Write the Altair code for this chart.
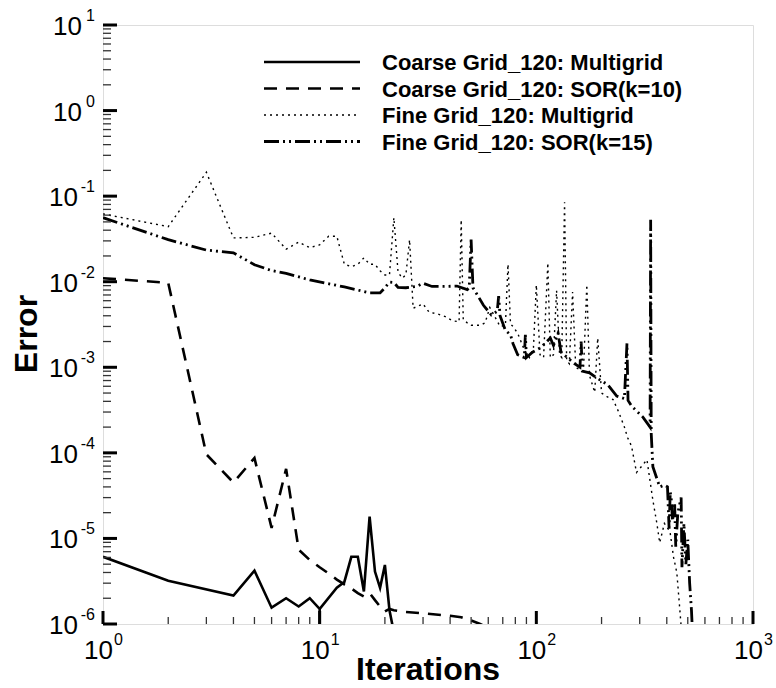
import altair as alt
import pandas as pd

# ---------------- data ----------------
cm_it = [1, 2, 4, 5, 6, 7, 8, 9, 10, 10, 10, 12, 13, 14, 15, 16, 17, 18, 19, 20, 21, 22]
cm_err = [6.1e-6, 3.2e-6, 2.15e-6, 4.2e-6, 1.55e-6, 2.0e-6, 1.6e-6, 2.0e-6, 1.5e-6, 9e-7, 1.5e-6,
          2.65e-6, 3.1e-6, 6.1e-6, 6.1e-6, 2.4e-6, 1.8e-5, 4.1e-6, 2.65e-6, 4.9e-6, 1.45e-6, 8e-7]

cs_it = [1, 2, 3, 4, 5, 6, 7, 8, 9, 10, 11, 12, 13, 14, 15, 16, 17, 18, 19, 20, 21, 22, 25,
         30, 40, 45, 50, 55, 60]
cs_err = [1.1e-2, 9.7e-3, 9.6e-5, 4.5e-5, 8.7e-5, 1.33e-5, 6.5e-5, 7.4e-6, 5.6e-6, 4.6e-6, 3.9e-6,
          3.3e-6, 2.9e-6, 2.6e-6, 2.3e-6, 2.1e-6, 2.3e-6, 1.9e-6, 1.6e-6, 1.4e-6, 1.5e-6, 1.45e-6,
          1.38e-6, 1.33e-6, 1.25e-6, 1.2e-6, 1.1e-6, 1.0e-6, 9e-7]

fm_it = [1, 2, 3, 4, 5, 6, 7, 8, 9, 10, 11, 12, 13, 14, 15, 16, 17, 18, 19, 20, 21, 22, 23, 24,
         25, 26, 27, 30, 32, 35, 38, 41, 44, 45, 46, 48, 50, 55, 58, 61, 64, 68, 72, 74, 76, 78,
         82, 88, 93, 97, 100, 104, 108, 113, 116, 120, 124, 128, 131, 135, 138, 142, 147, 152,
         159, 165, 171, 176, 186, 192, 200, 213, 226, 240, 255, 264, 275, 290, 324, 345, 360,
         371, 390, 414, 430, 445, 455, 465, 470]
fm_err = [0.062, 0.044, 0.19, 0.0325, 0.033, 0.037, 0.024, 0.029, 0.025, 0.027, 0.034, 0.034,
          0.016, 0.015, 0.016, 0.019, 0.016, 0.016, 0.0134, 0.012, 0.012, 0.056, 0.013, 0.011,
          0.012, 0.031, 0.0049, 0.0055, 0.0044, 0.0042, 0.0039, 0.0035, 0.0034, 0.053, 0.0036,
          0.0033, 0.0031, 0.0031, 0.0033, 0.005, 0.004, 0.0030, 0.0031, 0.016, 0.0032, 0.0030,
          0.0025, 0.0016, 0.0013, 0.0017, 0.0092, 0.0014, 0.0013, 0.0166, 0.0013, 0.0014, 0.0079,
          0.0014, 0.0013, 0.085, 0.0012, 0.0011, 0.0076, 0.0010, 0.00093, 0.0009, 0.0092, 0.0008,
          0.00051, 0.0022, 0.0005, 0.00045, 0.00042, 0.0003, 0.0002, 0.00015, 0.00012, 5.9e-5,
          8.3e-5, 2.8e-5, 1.5e-5, 8.9e-6, 1.5e-5, 1.2e-5, 6e-6, 4e-6, 2e-6, 1.0e-6, 5e-7]

fs_it = [1, 2, 3, 4, 5, 6, 7, 9, 13, 17, 19, 20, 21, 22, 23, 25, 28, 30, 33, 37, 43, 48, 49, 50,
         51, 54, 57, 62, 66, 67, 68, 72, 76, 78, 82, 88, 89, 90, 96, 105, 116, 120, 126, 130, 139,
         150, 159, 161, 163, 176, 190, 213, 235, 255, 262, 265, 276, 311, 335, 337, 339, 345, 360,
         371, 390, 403, 410, 415, 420, 425, 435, 440, 450, 466, 470, 480, 490, 500, 510, 520, 530]
fs_err = [0.056, 0.031, 0.0234, 0.0218, 0.0158, 0.0135, 0.0125, 0.0105, 0.0087, 0.0074, 0.0074,
          0.0085, 0.0099, 0.0098, 0.0086, 0.0085, 0.0088, 0.0096, 0.0088, 0.0088, 0.0089, 0.0081,
          0.0085, 0.031, 0.0085, 0.0067, 0.0053, 0.0041, 0.0045, 0.0068, 0.0040, 0.0027, 0.0024,
          0.0019, 0.0014, 0.0013, 0.0024, 0.0013, 0.0015, 0.0017, 0.0022, 0.0018, 0.0025, 0.0015,
          0.0013, 0.0011, 0.0010, 0.0020, 0.0009, 0.00086, 0.00075, 0.00063, 0.00046, 0.00043,
          0.0019, 0.00041, 0.00035, 0.00026, 0.0002, 0.053, 0.00017, 6.9e-5, 5e-5, 4e-5, 4.2e-5,
          4e-5, 1.3e-5, 3.5e-5, 2.8e-5, 1.6e-5, 2.5e-5, 8e-6, 2e-5, 3.0e-5, 4.6e-6, 1.5e-5, 5e-6,
          9.7e-6, 3e-6, 1.45e-6, 5e-7]

series_names = ["Coarse Grid_120: Multigrid", "Coarse Grid_120: SOR(k=10)",
                "Fine Grid_120: Multigrid", "Fine Grid_120: SOR(k=15)"]

x_exps = [0, 1, 2, 3]
y_exps = [-6, -5, -4, -3, -2, -1, 0, 1]

# ---------------- layout / style ----------------
W, H = 650, 599
FONT = "Liberation Sans"
xs = alt.Scale(type="log", domain=[1, 1000], nice=False)
ys = alt.Scale(type="log", domain=[1e-6, 10], nice=False)

styles = [
    dict(strokeWidth=2.6),
    dict(strokeWidth=2.6, strokeDash=[13, 9]),
    dict(strokeWidth=1.4, strokeDash=[2, 4]),
    dict(strokeWidth=2.8, strokeDash=[15, 4, 2, 4, 2, 4]),
]
all_series = [(cm_it, cm_err), (cs_it, cs_err), (fm_it, fm_err), (fs_it, fs_err)]

layers = []
for (its, errs), st in zip(all_series, styles):
    df = pd.DataFrame({"it": its, "err": errs, "idx": range(len(its))})
    layers.append(
        alt.Chart(df).mark_line(clip=True, color="black", **st).encode(
            x=alt.X("it:Q", scale=xs, axis=None),
            y=alt.Y("err:Q", scale=ys, axis=None),
            order="idx:Q",
        )
    )

# ticks (inward)
xmaj = pd.DataFrame({"v": [10.0 ** e for e in x_exps]})
xmin = pd.DataFrame({"v": [m * 10.0 ** e for e in x_exps[:-1] for m in range(2, 10)]})
ymaj = pd.DataFrame({"v": [10.0 ** e for e in y_exps]})
ymin = pd.DataFrame({"v": [m * 10.0 ** e for e in y_exps[:-1] for m in range(2, 10)]})

layers.append(alt.Chart(xmaj).mark_rule(color="black", strokeWidth=3).encode(
    x=alt.X("v:Q", scale=xs), y=alt.value(H), y2=alt.value(H - 13)))
layers.append(alt.Chart(xmin).mark_rule(color="#333", strokeWidth=1.3).encode(
    x=alt.X("v:Q", scale=xs), y=alt.value(H), y2=alt.value(H - 7)))
layers.append(alt.Chart(ymaj).mark_rule(color="black", strokeWidth=3).encode(
    y=alt.Y("v:Q", scale=ys), x=alt.value(0), x2=alt.value(14)))
layers.append(alt.Chart(ymin).mark_rule(color="#333", strokeWidth=1.3).encode(
    y=alt.Y("v:Q", scale=ys), x=alt.value(0), x2=alt.value(8)))

# tick labels with superscripts
xl = pd.DataFrame({"v": [10.0 ** e for e in x_exps], "e": [str(e) for e in x_exps]})
yl = pd.DataFrame({"v": [10.0 ** e for e in y_exps], "e": [str(e) for e in y_exps]})
yl_pos = yl[[e >= 0 for e in y_exps]]
yl_neg = yl[[e < 0 for e in y_exps]]

layers.append(alt.Chart(xl).mark_text(font=FONT, fontSize=26, align="right", baseline="middle",
                                      dx=10, dy=27).encode(
    x=alt.X("v:Q", scale=xs), y=alt.value(H), text=alt.value("10")))
layers.append(alt.Chart(xl).mark_text(font=FONT, fontSize=16, align="left", baseline="middle",
                                      dx=11, dy=16).encode(
    x=alt.X("v:Q", scale=xs), y=alt.value(H), text="e:N"))
layers.append(alt.Chart(yl_pos).mark_text(font=FONT, fontSize=26, align="right", baseline="middle",
                                          dx=-21, dy=2).encode(
    y=alt.Y("v:Q", scale=ys), x=alt.value(0), text=alt.value("10")))
layers.append(alt.Chart(yl_neg).mark_text(font=FONT, fontSize=26, align="right", baseline="middle",
                                          dx=-25, dy=2).encode(
    y=alt.Y("v:Q", scale=ys), x=alt.value(0), text=alt.value("10")))
layers.append(alt.Chart(yl).mark_text(font=FONT, fontSize=16, align="right", baseline="middle",
                                      dx=-8, dy=-9).encode(
    y=alt.Y("v:Q", scale=ys), x=alt.value(0), text="e:N"))

# axis titles
one = pd.DataFrame({"a": [0]})
layers.append(alt.Chart(one).mark_text(font=FONT, fontSize=32, fontWeight="bold", align="center",
                                       baseline="middle").encode(
    x=alt.value(W / 2), y=alt.value(H + 46), text=alt.value("Iterations")))
layers.append(alt.Chart(one).mark_text(font=FONT, fontSize=32, fontWeight="bold", align="center",
                                       baseline="middle", angle=270).encode(
    x=alt.value(-76), y=alt.value(309), text=alt.value("Error")))

# legend
row_y = [37, 63.5, 90, 116.5]
for name, st, ry in zip(series_names, styles, row_y):
    layers.append(alt.Chart(one).mark_rule(color="black", **st).encode(
        x=alt.value(161), x2=alt.value(257), y=alt.value(ry)))
    layers.append(alt.Chart(one).mark_text(font=FONT, fontSize=22, fontWeight="bold", align="left",
                                           baseline="middle").encode(
        x=alt.value(279), y=alt.value(ry + 1), text=alt.value(name)))

chart = alt.layer(*layers).properties(
    width=W, height=H,
    autosize=alt.AutoSizeParams(type="none"),
    padding={"left": 103, "top": 25, "right": 23, "bottom": 64},
).configure_view(stroke="black", strokeWidth=3).configure(background="white")

chart.save("out.html", embed_options={"renderer": "svg", "actions": False})
